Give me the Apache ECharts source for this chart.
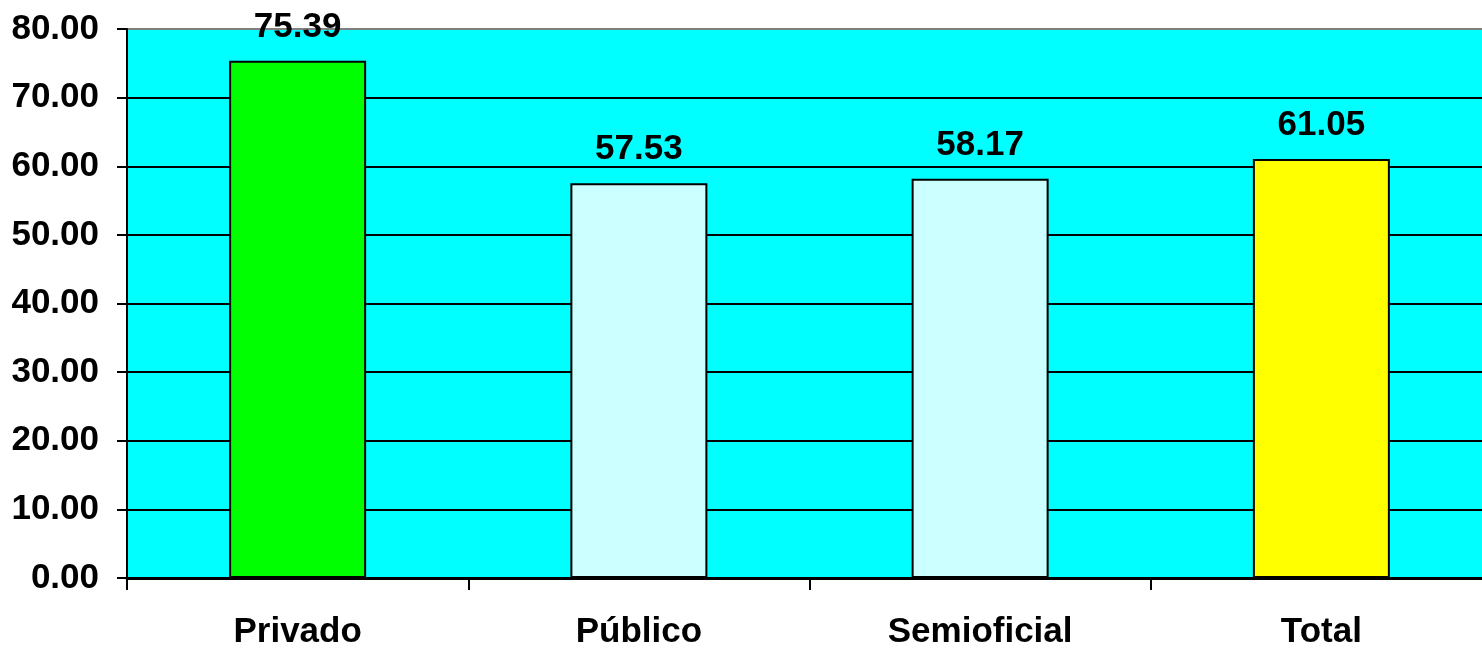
<!DOCTYPE html>
<html>
<head>
<meta charset="utf-8">
<script src="https://cdn.jsdelivr.net/npm/echarts@6/dist/echarts.min.js"></script>
<style>
html,body{margin:0;padding:0;background:#fff;}
#chart{width:1482px;height:648px;}
</style>
</head>
<body>
<div id="chart"></div>
<script>
const categories = ["Privado", "Público", "Semioficial", "Total"];
const values = [75.39, 57.53, 58.17, 61.05];
const barColors = ["#00FF00", "#CCFFFF", "#CCFFFF", "#FFFF00"];
const yTicks = [0, 10, 20, 30, 40, 50, 60, 70, 80];

const FONT = '"Liberation Sans", Arial, sans-serif';
const chart = echarts.init(document.getElementById('chart'));
const splitColors = yTicks.map((t, i) => i === yTicks.length - 1 ? '#808080' : '#000000');

chart.setOption({
  backgroundColor: '#ffffff',
  animation: false,
  grid: {
    left: 127, top: 29, bottom: 70, right: -10,
    outerBoundsMode: 'none',
    containLabel: false,
    show: true, backgroundColor: '#00FFFF', borderWidth: 0
  },
  xAxis: {
    type: 'category',
    data: categories,
    axisLine: { show: true, lineStyle: { color: '#000', width: 3 } },
    axisTick: { show: true, length: 12, lineStyle: { color: '#000', width: 2 }, alignWithLabel: false },
    axisLabel: { color: '#000', fontSize: 35, fontWeight: 'bold', fontFamily: FONT, margin: 37 },
    splitLine: { show: false }
  },
  yAxis: {
    type: 'value',
    min: yTicks[0], max: yTicks[yTicks.length - 1], interval: 10,
    axisLine: { show: true, lineStyle: { color: '#000', width: 2 } },
    axisTick: { show: true, length: 10, lineStyle: { color: '#000', width: 2 } },
    axisLabel: { color: '#000', fontSize: 35, fontWeight: 'bold', fontFamily: FONT, margin: 28,
      formatter: v => v.toFixed(2) },
    splitLine: { show: true, lineStyle: { color: splitColors, width: 2 } }
  },
  series: [{
    type: 'bar',
    data: values.map((v, i) => ({ value: v, itemStyle: { color: barColors[i] } })),
    barWidth: 137,
    itemStyle: { borderColor: '#000', borderWidth: 2 },
    label: {
      show: true, position: 'top', distance: 16,
      color: '#000', fontSize: 35, fontWeight: 'bold', fontFamily: FONT,
      formatter: p => p.value.toFixed(2)
    }
  }]
});
</script>
</body>
</html>
